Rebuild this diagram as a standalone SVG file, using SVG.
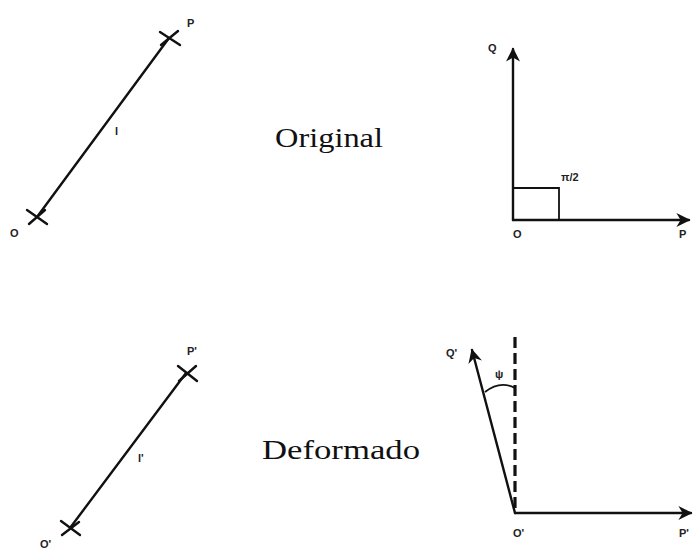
<svg xmlns="http://www.w3.org/2000/svg" width="693" height="550" viewBox="0 0 693 550">
<defs>
<style>
.ln{stroke:#111;stroke-width:2.4;fill:none;stroke-linecap:round}
.th{stroke:#111;stroke-width:1.8;fill:none}
.lb{font-family:"Liberation Sans",Arial,sans-serif;font-size:11px;font-weight:bold;fill:#222}
.big{font-family:"Liberation Serif","Times New Roman",serif;font-size:27px;fill:#111}
</style>
<marker id="ahb" viewBox="0 0 10 10" refX="9" refY="5" markerWidth="14" markerHeight="14" orient="auto" markerUnits="userSpaceOnUse">
<path d="M0,0 L10,5 L0,10 L3,5 Z" fill="#111"/>
</marker>
</defs>
<rect width="693" height="550" fill="#fff"/>
<g id="original-segment">
<line class="ln" x1="37" y1="217" x2="169" y2="38"/>
<path class="ln" d="M27,210 L47,224 M29,224 L45,210"/>
<path class="ln" d="M160,32 L180,45 M161,45 L178,31"/>
<text class="lb" x="187" y="27">P</text>
<text class="lb" x="10" y="237">O</text>
<text class="lb" x="115" y="135">l</text>
</g>
<g id="original-axes">
<line class="ln" x1="513" y1="220" x2="513" y2="49" marker-end="url(#ahb)"/>
<line class="ln" x1="513" y1="220" x2="689" y2="220" marker-end="url(#ahb)"/>
<path class="th" d="M513,188 H559 V220"/>
<text class="lb" x="488" y="52">Q</text>
<text class="lb" x="561" y="181">π/2</text>
<text class="lb" x="513" y="238">O</text>
<text class="lb" x="679" y="238">P</text>
</g>
<g id="original-label"><text class="big" x="275" y="147" textLength="108" lengthAdjust="spacingAndGlyphs">Original</text></g>
<g id="deformed-segment">
<line class="ln" x1="70" y1="528" x2="186" y2="373"/>
<path class="ln" d="M61,521 L80,535 M62,535 L79,522"/>
<path class="ln" d="M178,366 L197,381 M179,381 L196,366"/>
<text class="lb" x="187" y="355">P'</text>
<text class="lb" x="40" y="548">O'</text>
<text class="lb" x="138" y="462">l'</text>
</g>
<g id="deformed-axes">
<line x1="515" y1="337" x2="515" y2="513" stroke="#111" stroke-width="3.2" stroke-dasharray="11,5"/>
<line class="ln" x1="515" y1="513" x2="472" y2="350" marker-end="url(#ahb)"/>
<line class="ln" x1="515" y1="513" x2="691" y2="513" marker-end="url(#ahb)"/>
<path class="th" d="M485,392 Q500,380 515,388"/>
<text class="lb" x="446" y="357">Q'</text>
<text class="lb" x="495" y="378">ψ</text>
<text class="lb" x="513" y="537">O'</text>
<text class="lb" x="679" y="537">P'</text>
</g>
<g id="deformed-label"><text class="big" x="262" y="459" textLength="158" lengthAdjust="spacingAndGlyphs">Deformado</text></g>
</svg>
